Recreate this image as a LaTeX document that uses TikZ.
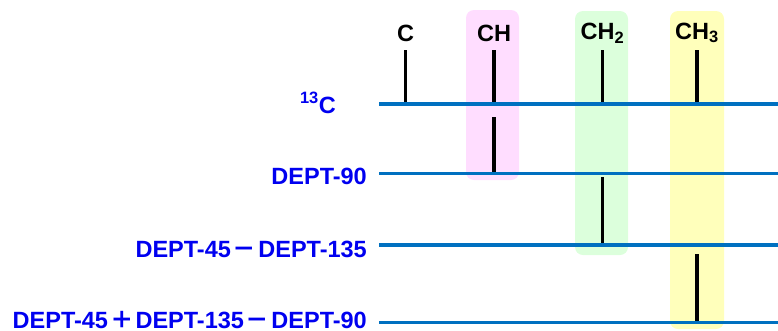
\documentclass[tikz,border=0pt]{standalone}
\usepackage{fontspec}
\setmainfont{Liberation Sans}
\newfontfamily\cjkfont{Noto Sans CJK SC}
\definecolor{specblue}{HTML}{0070C0}
\definecolor{labblue}{HTML}{0000F0}
\definecolor{pinkbox}{HTML}{FFDDFF}
\definecolor{greenbox}{HTML}{DCFFDC}
\definecolor{yellowbox}{HTML}{FFFFBB}
\newcommand{\fwminus}{\hspace{2pt}\smash{\cjkfont －}\hspace{2pt}}
\newcommand{\fwplus}{\hspace{2pt}\smash{\cjkfont ＋}\hspace{2pt}}
\tikzset{
  hilite/.style={rounded corners=8pt, draw=none},
  baseline/.style={specblue, line width=3.3pt},
  peak/.style={black, line width=3.3pt},
  grouplabel/.style={font=\fontsize{23.5}{23.5}\selectfont\bfseries, text=black, inner sep=0pt},
  spectlabel/.style={font=\fontsize{23.5}{23.5}\selectfont\bfseries, text=labblue, inner sep=0pt, anchor=base east},
}
\begin{document}
\begin{tikzpicture}[x=1pt,y=-1pt]
\useasboundingbox (0,0) rectangle (778,330);
% highlight boxes
\fill[hilite, pinkbox] (466,10) rectangle (519,180);
\fill[hilite, greenbox] (575,11) rectangle (628,255);
\fill[hilite, yellowbox] (670,11) rectangle (724,329);
% group labels
\node[grouplabel] (lc)   at (405.5,33) {C};
\node[grouplabel] (lch)  at (494,33) {CH};
\node[grouplabel] (lch2) at (602.5,33) {CH\textsubscript{2}};
\node[grouplabel] (lch3) at (697,33) {CH\textsubscript{3}};
% spectrum labels
\node[spectlabel] (s13)  at (336,113) {\textsuperscript{13}C};
\node[spectlabel] (s90)  at (367,184) {DEPT-90};
\node[spectlabel] (sdif) at (367,257) {DEPT-45\fwminus DEPT-135};
\node[spectlabel] (ssum) at (367,328.5) {DEPT-45\fwplus DEPT-135\fwminus DEPT-90};
% peaks
\draw[peak] (405.5,50) -- (405.5,104);
\draw[peak] (494,50) -- (494,104);
\draw[peak] (602.5,50) -- (602.5,104);
\draw[peak] (697,50) -- (697,104);
\draw[peak] (494,117) -- (494,173.5);
\draw[peak] (602.5,177) -- (602.5,245);
\draw[peak] (697,254) -- (697,322.5);
% baselines
\coordinate (b1) at (379,104);   \coordinate (e1) at (778,104);
\coordinate (b2) at (379,173.5); \coordinate (e2) at (778,173.5);
\coordinate (b3) at (379,245);   \coordinate (e3) at (778,245);
\coordinate (b4) at (379,322.5); \coordinate (e4) at (778,322.5);
\draw[baseline] (b1) -- (e1);
\draw[baseline] (b2) -- (e2);
\draw[baseline] (b3) -- (e3);
\draw[baseline] (b4) -- (e4);
\end{tikzpicture}
\end{document}
